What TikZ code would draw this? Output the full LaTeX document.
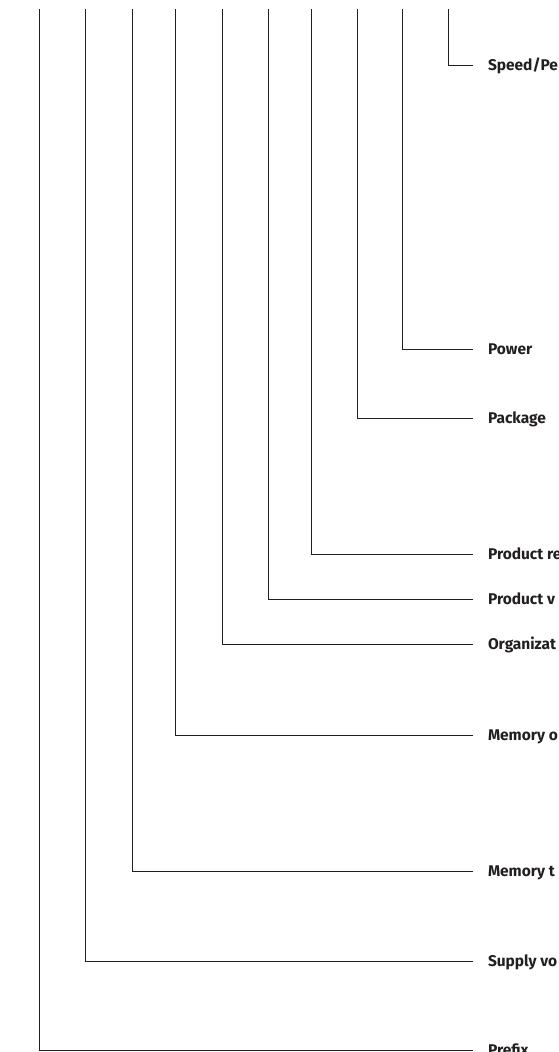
\documentclass[tikz,border=0pt]{standalone}
\usepackage{fontspec}
\setmainfont{Fira Sans}
\definecolor{ink}{HTML}{231F20}

\begin{document}
\begin{tikzpicture}[
        x=1pt, y=-1pt,
        field/.style={
            anchor=west,
            inner sep=0pt,
            outer xsep=15pt,
            text height=10.7pt,
            text depth=0pt,
            text=ink,
            font=\bfseries\fontsize{15.5}{18}\selectfont
        },
        lead/.style={
            draw=ink,
            line width=0.8pt
        },
    ]

    \useasboundingbox (0,0) rectangle (559,1052);

    % top ends of the leads
    \coordinate (t1) at (39,9);
    \coordinate (t2) at (85,9);
    \coordinate (t3) at (132,9);
    \coordinate (t4) at (175,9);
    \coordinate (t5) at (222,9);
    \coordinate (t6) at (268,9);
    \coordinate (t7) at (311,9);
    \coordinate (t8) at (357,9);
    \coordinate (t9) at (402,9);
    \coordinate (t10) at (448,9);

    % labels
    \node (prefix)  at (473,1050) [field] {Prefix};
    \node (supply)  at (473,961)  [field] {Supply vo};
    \node (memtype) at (473,871)  [field] {Memory t};
    \node (memorg)  at (473,735)  [field] {Memory o};
    \node (org)     at (473,644)  [field] {Organizat};
    \node (prodver) at (473,599)  [field] {Product v};
    \node (prodrev) at (473,554)  [field] {Product re};
    \node (package) at (473,418)  [field] {Package};
    \node (power)   at (473,349)  [field] {Power};
    \node (speed)   at (473,65)   [field] {Speed/Pe};

    \draw [lead] (t1) |- (prefix.west);
    \draw [lead] (t2) |- (supply.west);
    \draw [lead] (t3) |- (memtype.west);
    \draw [lead] (t4) |- (memorg.west);
    \draw [lead] (t5) |- (org.west);
    \draw [lead] (t6) |- (prodver.west);
    \draw [lead] (t7) |- (prodrev.west);
    \draw [lead] (t8) |- (package.west);
    \draw [lead] (t9) |- (power.west);
    \draw [lead] (t10) |- (speed.west);

    \end{tikzpicture}
\end{document}
